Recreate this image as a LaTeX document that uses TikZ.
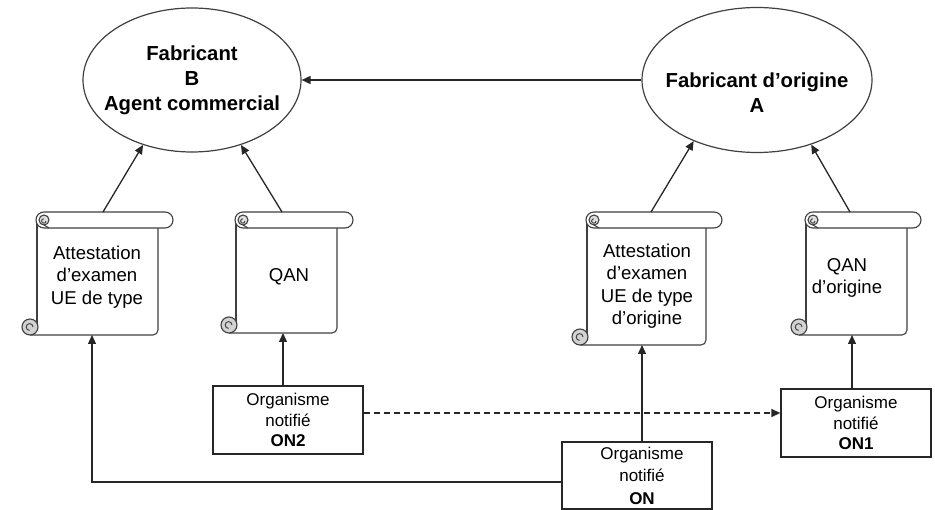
\documentclass[tikz,border=0pt]{standalone}
\usepackage{fontspec}
\setmainfont{Liberation Sans}
\usetikzlibrary{arrows.meta,calc}
\tikzset{
  ln/.style={line width=1.3pt, draw=black!85},
  arr/.style={ln, -{Triangle[length=9pt,width=8pt]}},
  ell/.style={ellipse, draw=black!75, line width=1.2pt, fill=white, inner sep=0pt},
  elltext/.style={align=center, inner sep=0pt, font=\fontsize{20.3}{25}\selectfont\bfseries},
  scrolltext/.style={align=center, inner sep=0pt, font=\fontsize{18.6}{22.5}\selectfont},
  onbox/.style={draw=black!85, line width=1.3pt, fill=white, inner sep=0pt, align=center, font=\fontsize{17}{20.5}\selectfont},
  scrollline/.style={line width=1.1pt, draw=black!75, line join=round},
}
\usetikzlibrary{shapes.geometric}
% #1 body left, #2 body right, #3 roll right, #4 bottom
\newcommand\myscrollshape[4]{%
  \fill[white] (#1,220) rectangle (#2,#4);
  \draw[scrollline] (#1,220) -- (#1,#4-8);
  \draw[scrollline, rounded corners=5] (#1-7,#4) -- (#2,#4) -- (#2,228);
  \filldraw[scrollline, fill=gray!35] (#1-7,#4-8) circle (8);
  \draw[line width=0.9pt, draw=black!75] (#1-4,#4-8) arc (0:-270:3.4);
  \filldraw[scrollline, fill=white, rounded corners=8] (#1-1,212) rectangle (#3,228);
  \filldraw[scrollline, fill=gray!25] (#1+7,220) circle (5);
  \draw[line width=0.9pt, draw=black!75] (#1+9,221) arc (0:270:2.2);
  \draw[scrollline] (#1+7,225) -- (#1+12,228);
}
\begin{document}
\begin{tikzpicture}[x=1pt,y=-1pt]
\useasboundingbox (0,0) rectangle (935,510);

% ellipses
\node[ell, minimum width=218pt, minimum height=144pt] (B) at (192,80) {};
\node[elltext] (Btxt) at (192,80) {Fabricant\\B\\Agent commercial};
\node[ell, minimum width=230pt, minimum height=145pt] (A) at (757,80) {};
\node[elltext] (Atxt) at (757,93) {Fabricant d’origine\\A};

\draw[arr] (A.west) -- (B.east);

% scrolls
\myscrollshape{37}{158}{173}{335}
\myscrollshape{236}{337}{353}{333}
\myscrollshape{587}{706}{722}{345}
\myscrollshape{806}{907}{921}{335}

\node[scrolltext] (s1) at (97,277) {Attestation\\d’examen\\UE de type};
\node[scrolltext] (s2) at (289,277) {QAN};
\node[scrolltext] (s3) at (647,286) {Attestation\\d’examen\\UE de type\\d’origine};
\node[scrolltext] (s4) at (847,278) {QAN\\d’origine};

\coordinate (s1top) at (103,212);
\coordinate (s2top) at (282,212);
\coordinate (s3top) at (651,212);
\coordinate (s4top) at (850,212);
\coordinate (s1bot) at (92,335);
\coordinate (s2bot) at (283,333);
\coordinate (s3bot) at (642,345);
\coordinate (s4bot) at (852,335);

\draw[arr] (s1top) -- (B.233);
\draw[arr] (s2top) -- (B.307.7);
\draw[arr] (s3top) -- (A.224.6);
\draw[arr] (s4top) -- (A.310.3);

% notified bodies
\node[onbox, minimum width=150pt, minimum height=68pt] (on2) at (288,420)
  {Organisme\\notifié\\\textbf{ON2}};
\node[onbox, minimum width=150pt, minimum height=68pt] (on1) at (856,423)
  {Organisme\\notifié\\\textbf{ON1}};
\node[onbox, minimum width=150pt, minimum height=67pt,
      font=\fontsize{17}{22.5}\selectfont] (on) at (637,475.5)
  {\hspace*{10pt}Organisme\\\hspace*{10pt}notifié\\\hspace*{10pt}\textbf{ON}};

\draw[arr] (on2.north -| s2bot) -- (s2bot);
\draw[arr] (on1.north -| s4bot) -- (s4bot);
\draw[arr] (on.north -| s3bot) -- (s3bot);
\draw[arr] ([yshift=-6.5pt]on.west) -| (s1bot);
\draw[arr, dash pattern=on 6pt off 4pt] ([yshift=7pt]on2.east) -- ([yshift=7pt]on2.east -| on1.west);
\end{tikzpicture}
\end{document}
